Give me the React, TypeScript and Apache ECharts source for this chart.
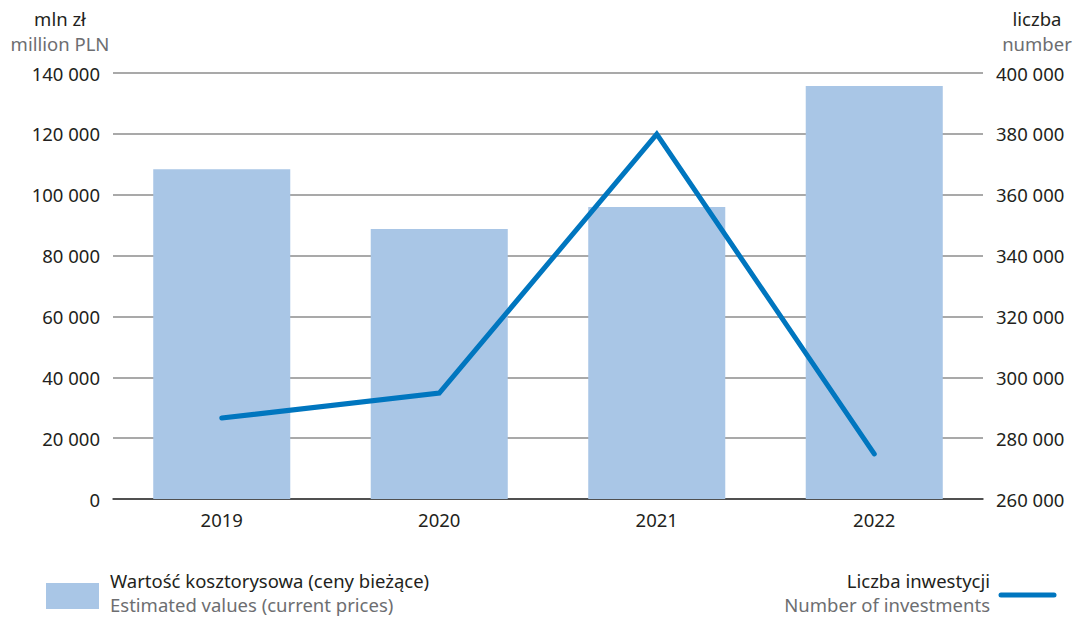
import React, { useEffect, useRef } from "react";
import * as echarts from "echarts";

const categories = ["2019", "2020", "2021", "2022"];
const estimatedValues = [108400, 88700, 96000, 135700];
const investmentsCount = [286600, 294800, 379900, 274800];

const leftTicks = { min: 0, max: 140000, interval: 20000 };
const rightTicks = { min: 260000, max: 400000, interval: 20000 };

const leftTitle = ["mln zł", "million PLN"];
const rightTitle = ["liczba", "number"];
const barLegend = ["Wartość kosztorysowa (ceny bieżące)", "Estimated values (current prices)"];
const lineLegend = ["Liczba inwestycji", "Number of investments"];

const FONT = "'Noto Sans', sans-serif";
const BAR_COLOR = "#a9c6e6";
const LINE_COLOR = "#0076bf";
const DARK = "#231f20";
const GREY = "#6d6e71";
const AXIS_FS = 18.5;
const TEXT_FS = 18.5;

const fmt = (v: number) => String(v).replace(/\B(?=(\d{3})+(?!\d))/g, " ");

export default function App() {
  const ref = useRef<HTMLDivElement>(null);
  useEffect(() => {
    if (!ref.current) return;
    const chart = echarts.init(ref.current, null, { renderer: "svg" });
    const t = (x: number, y: number, text: string, fill: string, align: string) => ({
      type: "text",
      x,
      y,
      style: {
        text,
        font: `${TEXT_FS}px ${FONT}`,
        fill,
        textAlign: align,
        textVerticalAlign: "middle",
        lineHeight: 20,
      },
    });
    chart.setOption({
      animation: false,
      textStyle: { fontFamily: FONT },
      grid: { left: 113, right: 98, top: 73, bottom: 118 },
      xAxis: {
        type: "category",
        data: categories,
        axisTick: { show: false },
        axisLine: { lineStyle: { color: "#333333", width: 1.5 } },
        axisLabel: { color: DARK, fontSize: AXIS_FS, fontFamily: FONT, margin: 11 },
      },
      yAxis: [
        {
          type: "value",
          ...leftTicks,
          position: "left",
          axisLine: { show: false },
          axisTick: { show: false },
          splitLine: { lineStyle: { color: "#8c8c8c", width: 1.5 } },
          axisLabel: { color: DARK, fontSize: AXIS_FS, fontFamily: FONT, margin: 13, formatter: fmt },
        },
        {
          type: "value",
          ...rightTicks,
          position: "right",
          axisLine: { show: false },
          axisTick: { show: false },
          splitLine: { show: false },
          axisLabel: { color: DARK, fontSize: AXIS_FS, fontFamily: FONT, margin: 13, formatter: fmt },
        },
      ],
      series: [
        {
          type: "bar",
          data: estimatedValues,
          yAxisIndex: 0,
          barWidth: "63%",
          itemStyle: { color: BAR_COLOR },
          z: 2,
        },
        {
          type: "line",
          data: investmentsCount,
          yAxisIndex: 1,
          symbol: "none",
          lineStyle: { color: LINE_COLOR, width: 5, cap: "round", join: "miter" },
          z: 3,
        },
      ],
      graphic: [
        t(60, 18, leftTitle[0], DARK, "center"),
        t(60, 43, rightTitle.length ? leftTitle[1] : "", GREY, "center"),
        t(1037, 18, rightTitle[0], DARK, "center"),
        t(1037, 43, rightTitle[1], GREY, "center"),
        { type: "rect", shape: { x: 46, y: 583, width: 53, height: 26 }, style: { fill: BAR_COLOR } },
        t(110, 580, barLegend[0], DARK, "left"),
        t(110, 604, barLegend[1], GREY, "left"),
        t(990, 580, lineLegend[0], DARK, "right"),
        t(990, 604, lineLegend[1], GREY, "right"),
        { type: "line", shape: { x1: 1001, y1: 595, x2: 1054, y2: 595 }, style: { stroke: LINE_COLOR, lineWidth: 5, lineCap: "round" } },
      ],
    });
    return () => chart.dispose();
  }, []);
  return <div ref={ref} style={{ width: 1081, height: 617, position: "absolute", left: 0, top: 0 }} />;
}
